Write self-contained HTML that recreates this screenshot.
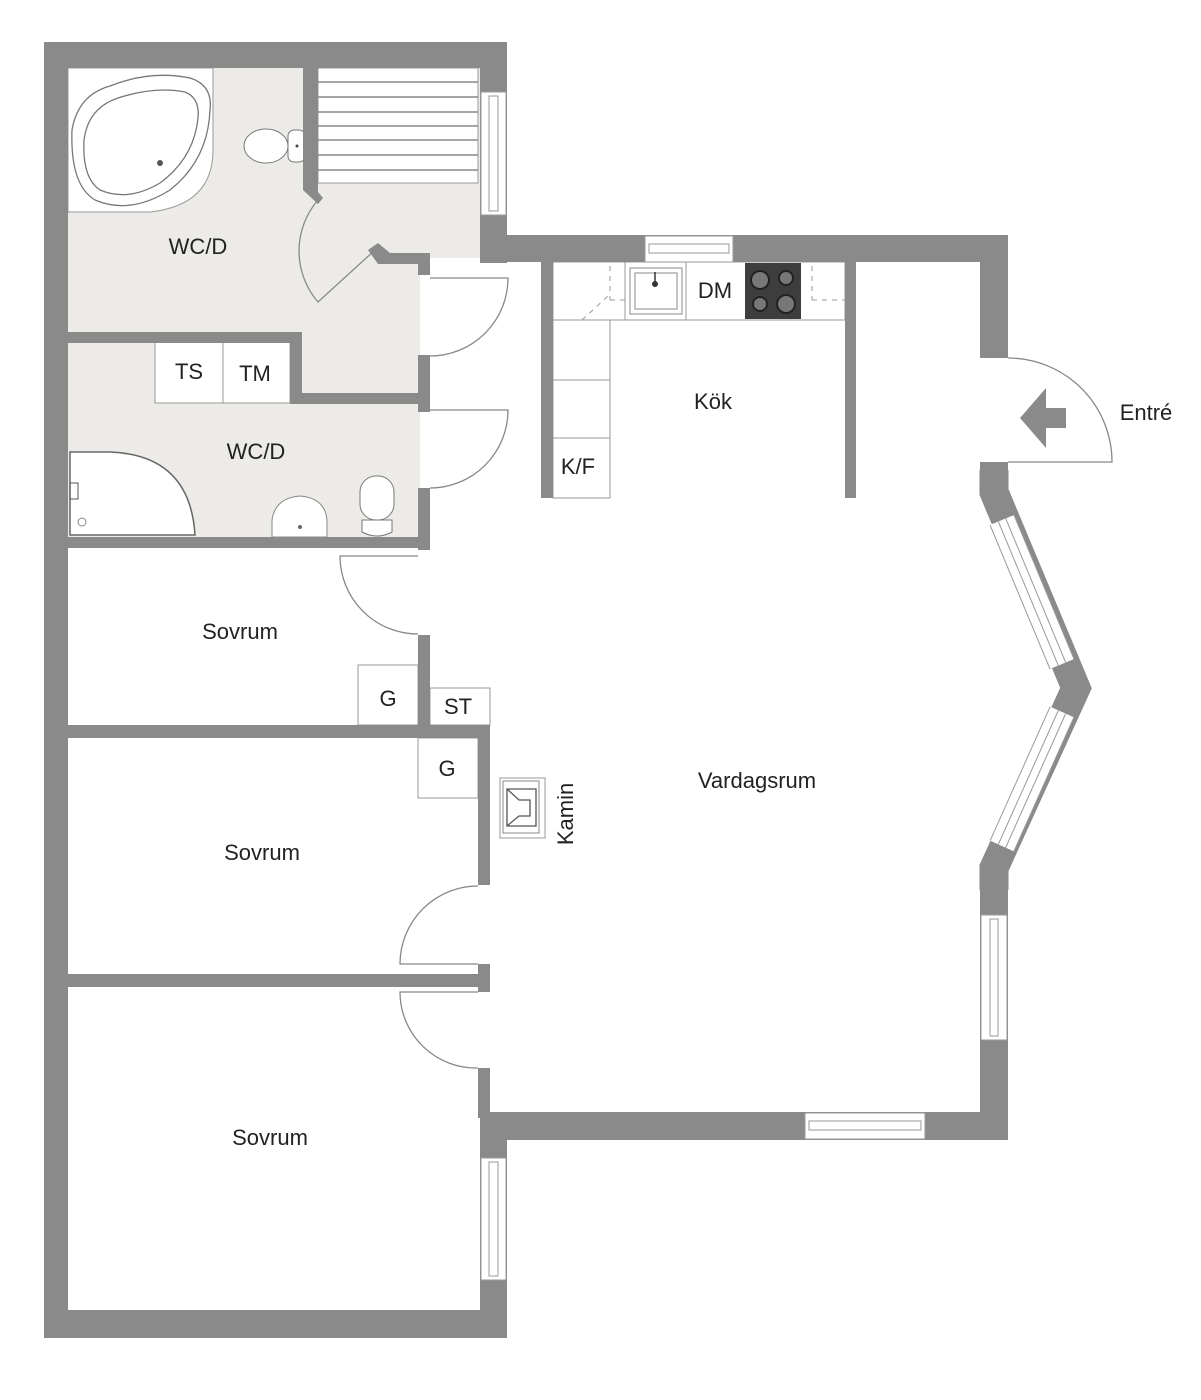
<!DOCTYPE html>
<html><head><meta charset="utf-8"><style>
html,body{margin:0;padding:0;background:#fff}
svg{display:block}
text{font-family:"Liberation Sans",Arial,sans-serif;fill:#222}
</style></head><body>
<svg width="1201" height="1400" viewBox="0 0 1201 1400" xmlns="http://www.w3.org/2000/svg">
<!-- floors -->
<rect x="68" y="68" width="412" height="190" fill="#edebe8"/>
<rect x="68" y="250" width="352" height="82" fill="#edebe8"/>
<rect x="302" y="300" width="118" height="95" fill="#edebe8"/>
<rect x="68" y="342" width="352" height="196" fill="#edebe8"/>
<!-- sauna -->
<rect x="318" y="68" width="160" height="115" fill="#fff" stroke="#999" stroke-width="1"/>
<g stroke="#888" stroke-width="1.5">
<line x1="318" y1="82" x2="478" y2="82"/><line x1="318" y1="97" x2="478" y2="97"/><line x1="318" y1="112" x2="478" y2="112"/><line x1="318" y1="126" x2="478" y2="126"/><line x1="318" y1="140" x2="478" y2="140"/><line x1="318" y1="155" x2="478" y2="155"/><line x1="318" y1="170" x2="478" y2="170"/>
</g>
<!-- corner tub -->
<path d="M68 68 H213 V150 Q213 205 150 212 H68 Z" fill="#fff" stroke="#999"/>
<path d="M72 130 Q78 95 110 86 Q150 70 190 78 Q213 85 210 110 Q208 160 170 190 Q130 215 95 200 Q70 185 72 130 Z" fill="#fff" stroke="#777" stroke-width="1.3"/>
<path d="M84 140 Q88 108 118 98 Q155 86 185 92 Q200 98 198 118 Q194 158 160 183 Q128 202 100 190 Q82 178 84 140 Z" fill="none" stroke="#777" stroke-width="1.3"/>
<circle cx="160" cy="163" r="3" fill="#555"/>
<!-- toilet upper -->
<ellipse cx="266" cy="146" rx="22" ry="17" fill="#fff" stroke="#777"/>
<rect x="288" y="130" width="17" height="32" rx="6" fill="#fff" stroke="#777"/>
<circle cx="297" cy="146" r="1.5" fill="#444"/>
<!-- TS TM boxes -->
<rect x="155" y="342" width="135" height="61" fill="#fff" stroke="#999"/>
<line x1="223" y1="342" x2="223" y2="403" stroke="#999"/>
<!-- shower -->
<path d="M70 452 H110 Q190 455 195 535 H70 Z" fill="#fff" stroke="#666" stroke-width="1.5"/>
<circle cx="82" cy="522" r="4" fill="none" stroke="#888"/>
<rect x="70" y="483" width="8" height="16" fill="none" stroke="#555"/>
<!-- sink -->
<path d="M272 537 V520 Q275 498 300 496 Q325 498 327 520 V537 Z" fill="#fff" stroke="#888"/>
<circle cx="300" cy="527" r="2" fill="#666"/>
<!-- toilet lower -->
<rect x="360" y="476" width="34" height="44" rx="16" fill="#fff" stroke="#777"/>
<path d="M362 520 H392 V532 Q377 540 362 532 Z" fill="#fff" stroke="#777"/>
<!-- closets -->
<rect x="358" y="665" width="60" height="60" fill="#fff" stroke="#999"/>
<rect x="430" y="688" width="60" height="37" fill="#fff" stroke="#999"/>
<rect x="418" y="738" width="60" height="60" fill="#fff" stroke="#999"/>
<!-- kitchen counters -->
<rect x="553" y="262" width="292" height="58" fill="#fff" stroke="#999"/>
<rect x="553" y="320" width="57" height="178" fill="#fff" stroke="#999"/>
<line x1="553" y1="380" x2="610" y2="380" stroke="#999"/>
<line x1="553" y1="438" x2="610" y2="438" stroke="#999"/>
<line x1="625" y1="262" x2="625" y2="320" stroke="#999"/>
<line x1="686" y1="262" x2="686" y2="320" stroke="#999"/>
<rect x="630" y="268" width="52" height="46" fill="#fff" stroke="#888"/>
<rect x="635" y="273" width="42" height="36" fill="#fff" stroke="#888"/>
<line x1="655" y1="272" x2="655" y2="283" stroke="#333" stroke-width="1.5"/>
<circle cx="655" cy="284" r="3" fill="#333"/>
<rect x="745" y="263" width="56" height="56" fill="#3d3d3d"/>
<circle cx="760" cy="280" r="9" fill="#777" stroke="#222" stroke-width="2"/>
<circle cx="786" cy="278" r="7" fill="#777" stroke="#222" stroke-width="2"/>
<circle cx="760" cy="304" r="7" fill="#777" stroke="#222" stroke-width="2"/>
<circle cx="786" cy="304" r="9" fill="#777" stroke="#222" stroke-width="2"/>
<g stroke="#999" stroke-dasharray="5,5" fill="none">
<line x1="610" y1="266" x2="610" y2="300"/><line x1="610" y1="300" x2="625" y2="300"/><line x1="582" y1="320" x2="608" y2="296"/>
<line x1="812" y1="266" x2="812" y2="300"/><line x1="812" y1="300" x2="845" y2="300"/>
</g>
<!-- kamin -->
<rect x="500" y="778" width="45" height="60" fill="#fff" stroke="#999"/>
<rect x="503" y="781" width="36" height="52" fill="#fff" stroke="#888"/>
<path d="M507 789 H536 V826 H507 Z M507 789 L519 800 H530 V816 H519 L507 826" fill="none" stroke="#555" stroke-width="1.3"/>
<!-- walls -->
<g fill="#8a8a8a">
<rect x="44" y="42" width="24" height="1296"/>
<rect x="44" y="42" width="463" height="26"/>
<rect x="480" y="42" width="27" height="221"/>
<rect x="480" y="235" width="528" height="27"/>
<rect x="980" y="235" width="28" height="123"/>
<rect x="980" y="462" width="28" height="20"/>
<rect x="980" y="880" width="28" height="260"/>
<rect x="480" y="1112" width="528" height="28"/>
<rect x="480" y="1112" width="27" height="226"/>
<rect x="44" y="1310" width="463" height="28"/>
<polygon points="303,68 318,68 318,192 323,198 318,204 303,190"/>
<polygon points="368,250 378,243 390,253 430,253 430,264 378,264"/>
<rect x="418" y="253" width="12" height="22"/>
<rect x="418" y="355" width="12" height="57"/>
<rect x="418" y="488" width="12" height="62"/>
<rect x="68" y="332" width="234" height="11"/>
<rect x="290" y="332" width="12" height="71"/>
<rect x="290" y="393" width="140" height="11"/>
<rect x="68" y="537" width="362" height="11"/>
<rect x="418" y="635" width="12" height="100"/>
<rect x="68" y="725" width="422" height="13"/>
<rect x="478" y="725" width="12" height="160"/>
<rect x="68" y="974" width="422" height="13"/>
<rect x="478" y="964" width="12" height="28"/>
<rect x="478" y="1068" width="12" height="50"/>
<rect x="541" y="262" width="12" height="236"/>
<rect x="845" y="262" width="11" height="236"/>
</g>
<polyline points="994,470 994,492 1076,688 994,868 994,890" fill="none" stroke="#8a8a8a" stroke-width="29" stroke-linejoin="miter"/>
<!-- windows -->
<g>
<rect x="481" y="92" width="25" height="123" fill="#fff" stroke="#999"/>
<rect x="489" y="96" width="9" height="115" fill="none" stroke="#999"/>
<rect x="645" y="236" width="88" height="26" fill="#fff" stroke="#999"/>
<rect x="649" y="244" width="80" height="9" fill="none" stroke="#999"/>
<rect x="981" y="915" width="26" height="125" fill="#fff" stroke="#999"/>
<rect x="990" y="919" width="8" height="117" fill="none" stroke="#999"/>
<rect x="805" y="1113" width="120" height="26" fill="#fff" stroke="#999"/>
<rect x="809" y="1121" width="112" height="9" fill="none" stroke="#999"/>
<rect x="481" y="1158" width="25" height="122" fill="#fff" stroke="#999"/>
<rect x="489" y="1162" width="9" height="114" fill="none" stroke="#999"/>
<line x1="1002" y1="520" x2="1062" y2="664" stroke="#999" stroke-width="27"/>
<line x1="1002" y1="520" x2="1062" y2="664" stroke="#fff" stroke-width="25"/>
<line x1="1002" y1="520" x2="1062" y2="664" stroke="#999" stroke-width="9"/>
<line x1="1002" y1="520" x2="1062" y2="664" stroke="#fff" stroke-width="7"/>
<line x1="1062" y1="712" x2="1002" y2="846" stroke="#999" stroke-width="27"/>
<line x1="1062" y1="712" x2="1002" y2="846" stroke="#fff" stroke-width="25"/>
<line x1="1062" y1="712" x2="1002" y2="846" stroke="#999" stroke-width="9"/>
<line x1="1062" y1="712" x2="1002" y2="846" stroke="#fff" stroke-width="7"/>
</g>
<!-- doors -->
<g fill="none" stroke="#888" stroke-width="1.3">
<path d="M375 250 L318 302 A78 78 0 0 1 318 200"/>
<path d="M430 278 H508 A78 78 0 0 1 430 356"/>
<path d="M430 410 H508 A78 78 0 0 1 430 488"/>
<path d="M418 556 H340 A78 78 0 0 0 418 634"/>
<path d="M478 964 H400 A78 78 0 0 1 478 886"/>
<path d="M478 992 H400 A76 76 0 0 0 478 1068"/>
<path d="M1008 462 H1112 A104 104 0 0 0 1008 358"/>
</g>
<polygon points="1020,418 1046,388 1046,408 1066,408 1066,428 1046,428 1046,448" fill="#8a8a8a"/>
<!-- labels -->
<g font-size="22" text-anchor="middle">
<text x="198" y="254">WC/D</text>
<text x="189" y="379">TS</text>
<text x="255" y="381">TM</text>
<text x="256" y="459">WC/D</text>
<text x="578" y="474">K/F</text>
<text x="715" y="298">DM</text>
<text x="713" y="409">Kök</text>
<text x="1146" y="420">Entré</text>
<text x="240" y="639">Sovrum</text>
<text x="388" y="706">G</text>
<text x="458" y="714">ST</text>
<text x="447" y="776">G</text>
<text x="757" y="788">Vardagsrum</text>
<text x="262" y="860">Sovrum</text>
<text x="270" y="1145">Sovrum</text>
<text transform="translate(573,814) rotate(-90)">Kamin</text>
</g>
</svg>
</body></html>
